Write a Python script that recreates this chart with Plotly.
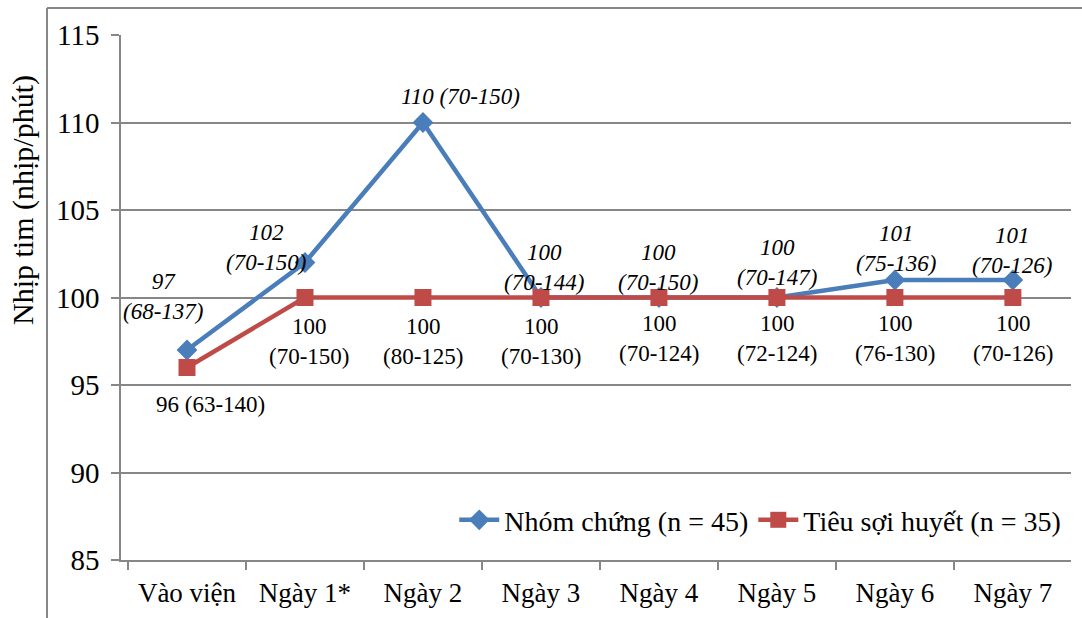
import plotly.graph_objects as go

# Heart rate over admission days: median (min-max) per group
days = ["Vào viện", "Ngày 1*", "Ngày 2", "Ngày 3", "Ngày 4", "Ngày 5", "Ngày 6", "Ngày 7"]

control_name = "Nhóm chứng (n = 45)"
control_median = [97, 102, 110, 100, 100, 100, 101, 101]
control_min = [68, 70, 70, 70, 70, 70, 75, 70]
control_max = [137, 150, 150, 144, 150, 147, 136, 126]

lytic_name = "Tiêu sợi huyết (n = 35)"
lytic_median = [96, 100, 100, 100, 100, 100, 100, 100]
lytic_min = [63, 70, 80, 70, 70, 72, 76, 70]
lytic_max = [140, 150, 125, 130, 124, 124, 130, 126]

y_ticks = [85, 90, 95, 100, 105, 110, 115]

# Label placement (pixel shifts from each point, and whether to wrap the range)
control_shift = [(-24, 54), (-39, 15), (38, 26), (3, 30), (-1, 30), (0, 35), (1, 32), (-1, 30)]
control_wrap = [True, True, False, True, True, True, True, True]
lytic_shift = [(23, -37), (4, -44), (0, -44), (0, -44), (0, -41), (0, -41), (0, -41), (0, -41)]
lytic_wrap = [False, True, True, True, True, True, True, True]

BLUE = "#4A7EBB"
RED = "#BE4B48"
GRID = "#878787"
FONT = "Liberation Serif"

fig = go.Figure()
fig.add_trace(go.Scatter(
    x=days, y=control_median, name=control_name, mode="lines+markers",
    line=dict(color=BLUE, width=4.5),
    marker=dict(symbol="diamond", size=16, color=BLUE),
))
fig.add_trace(go.Scatter(
    x=days, y=lytic_median, name=lytic_name, mode="lines+markers",
    line=dict(color=RED, width=4.5),
    marker=dict(symbol="square", size=17, color=RED),
))

annotations = []
for i, d in enumerate(days):
    sep = "<br>" if control_wrap[i] else " "
    txt = f"{control_median[i]}{sep}({control_min[i]}-{control_max[i]})"
    annotations.append(dict(
        x=d, y=control_median[i], xref="x", yref="y", text=txt, showarrow=False,
        xshift=control_shift[i][0], yshift=control_shift[i][1],
        font=dict(family=FONT, size=23, style="italic"), align="center",
    ))
    sep = "<br>" if lytic_wrap[i] else " "
    txt = f"{lytic_median[i]}{sep}({lytic_min[i]}-{lytic_max[i]})"
    annotations.append(dict(
        x=d, y=lytic_median[i], xref="x", yref="y", text=txt, showarrow=False,
        xshift=lytic_shift[i][0], yshift=lytic_shift[i][1],
        font=dict(family=FONT, size=23), align="center",
    ))

# Y-axis title placed as rotated text
annotations.append(dict(
    text="Nhịp tim (nhịp/phút)", xref="paper", yref="paper",
    x=-0.103, y=0.686, xanchor="center", yanchor="middle", textangle=-90,
    showarrow=False, font=dict(family=FONT, size=30),
))

fig.update_layout(
    width=1082, height=618,
    margin=dict(l=121, r=11, t=35, b=58),
    paper_bgcolor="white", plot_bgcolor="white",
    showlegend=True,
    legend=dict(
        orientation="h", x=0.995, xanchor="right", y=0.076, yanchor="middle",
        font=dict(family=FONT, size=28, color="black"),
        bgcolor="rgba(0,0,0,0)", itemwidth=40,
    ),
    annotations=annotations,
    shapes=[
        # outer chart frame (left and top edges)
        dict(type="line", xref="paper", yref="paper", x0=-0.0779, x1=-0.0779, y0=1.0514, y1=-0.2,
             line=dict(color=GRID, width=2)),
        dict(type="line", xref="paper", yref="paper", x0=-0.0779, x1=1.05, y0=1.0514, y1=1.0514,
             line=dict(color=GRID, width=2)),
    ],
)
fig.update_annotations(font_color="black")

fig.update_xaxes(
    type="category", tickson="boundaries", ticks="outside", ticklen=8, tickcolor=GRID,
    tickwidth=1.5, showline=True, linecolor=GRID, linewidth=1.5, showgrid=False,
    tickfont=dict(family=FONT, size=27, color="black"), ticklabelstandoff=8,
)
fig.update_yaxes(
    range=[85, 115], tickvals=y_ticks, ticks="outside", ticklen=8, tickcolor=GRID,
    tickwidth=1.5, showline=True, linecolor=GRID, linewidth=1.5,
    showgrid=True, gridcolor=GRID, gridwidth=1.5, zeroline=False,
    tickfont=dict(family=FONT, size=29, color="black"), ticklabelstandoff=6,
)

fig.write_html("out.html")
